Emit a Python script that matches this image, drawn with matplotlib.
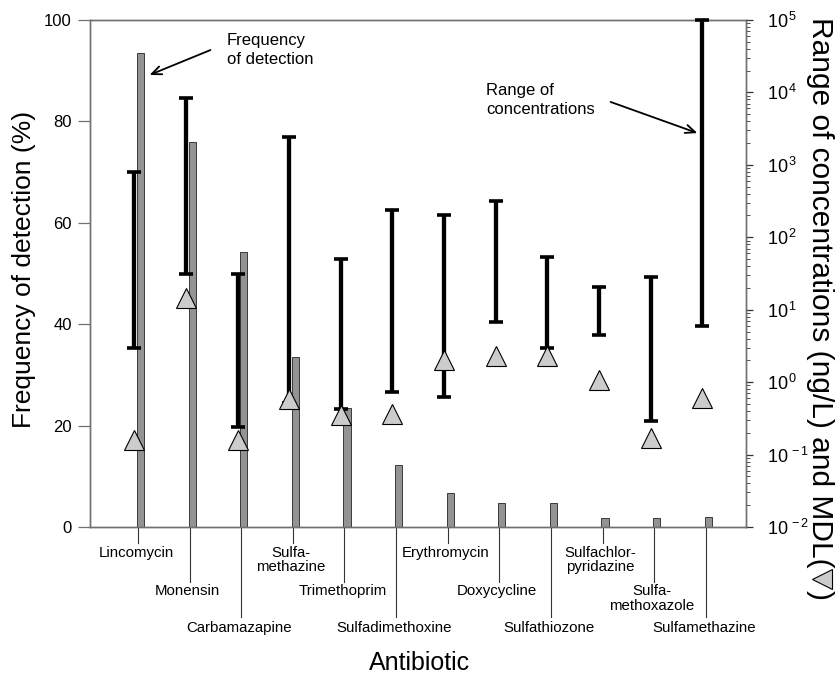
import matplotlib
matplotlib.use("Agg")
import matplotlib.pyplot as plt
import matplotlib.transforms as mtransforms
from matplotlib.lines import Line2D
from matplotlib.ticker import FixedLocator, FuncFormatter, LogLocator, NullFormatter
import numpy as np

plt.rcParams["font.family"] = ["Liberation Sans", "DejaVu Sans"]
plt.rcParams["mathtext.fontset"] = "custom"
plt.rcParams["mathtext.rm"] = "Liberation Sans"
plt.rcParams["mathtext.it"] = "Liberation Sans:italic"

# ---- data -------------------------------------------------------------
antibiotics = ["Lincomycin", "Monensin", "Carbamazapine", "Sulfa-\nmethazine",
               "Trimethoprim", "Sulfadimethoxine", "Erythromycin", "Doxycycline",
               "Sulfathiozone", "Sulfachlor-\npyridazine", "Sulfa-\nmethoxazole",
               "Sulfamethazine"]
label_row = [0, 1, 2, 0, 1, 2, 0, 1, 2, 0, 1, 2]

detection_freq = [93.5, 76.0, 54.2, 33.6, 23.5, 12.2, 6.8, 4.8, 4.8, 1.7, 1.7, 1.9]   # %
conc_min = [2.95, 31, 0.24, 0.52, 0.43, 0.72, 0.62, 6.7, 2.95, 4.5, 0.29, 5.9]        # ng/L
conc_max = [800, 8500, 31, 2400, 50, 236, 200, 316, 54, 20.5, 28, 1e5]                # ng/L
mdl = [0.16, 14.5, 0.16, 0.58, 0.35, 0.36, 2.0, 2.3, 2.3, 1.07, 0.17, 0.6]             # ng/L

freq_ticks = [0, 20, 40, 60, 80, 100]
conc_exponents = [-2, -1, 0, 1, 2, 3, 4, 5]

# ---- figure -----------------------------------------------------------
W, H = 840, 675
fig = plt.figure(figsize=(W / 100, H / 100), dpi=100)
ax = fig.add_axes([90 / W, 1 - 527 / H, (746 - 90) / W, (527 - 20) / H])
ax2 = ax.twinx()

spine_color = "#707070"
x = np.arange(len(antibiotics))

# frequency of detection bars (left axis)
ax.bar(x + 0.05, detection_freq, width=0.14, color="#939393",
       edgecolor="#3a3a3a", linewidth=0.7, zorder=2)
ax.set_xlim(-0.93, 11.78)
ax.set_ylim(0, 100)
ax.set_xticks([])
ax.yaxis.set_major_locator(FixedLocator(freq_ticks))
ax.tick_params(axis="y", direction="out", length=9, width=0.9,
               color=spine_color, labelsize=12, pad=4)

# concentration ranges and MDL (right, log axis)
ax2.set_yscale("log")
ax2.set_ylim(1e-2, 1e5)
xr = x - 0.07
ax2.vlines(xr, conc_min, conc_max, color="black", lw=3.1, zorder=3)
for ends in (conc_min, conc_max):
    ax2.plot(xr, ends, ls="none", marker="_", ms=10, mew=2.6,
             color="black", clip_on=False, zorder=3)
ax2.plot(xr, mdl, ls="none", marker="^", ms=14, mfc="#cccccc",
         mec="black", mew=0.8, zorder=4, clip_on=False)

ax2.yaxis.set_major_locator(FixedLocator([10.0 ** e for e in conc_exponents]))
ax2.yaxis.set_major_formatter(
    FuncFormatter(lambda v, p: r"$10^{\,%d}$" % int(round(np.log10(v)))))
ax2.yaxis.set_minor_locator(LogLocator(base=10, subs=np.arange(2, 10), numticks=20))
ax2.yaxis.set_minor_formatter(NullFormatter())
ax2.tick_params(axis="y", which="major", direction="out", length=5, width=0.9,
                color="#333333", labelsize=13, pad=10)
ax2.tick_params(axis="y", which="minor", direction="out", length=3, width=0.6,
                color="#333333")

for a in (ax, ax2):
    for s in a.spines.values():
        s.set_color(spine_color)
        s.set_linewidth(1.0)

# staggered category labels with leader lines
trans = mtransforms.blended_transform_factory(ax.transData, ax.transAxes)
line_ends = [-0.032, -0.108, -0.178]
label_tops = [-0.037, -0.113, -0.186]
for i, (name, row) in enumerate(zip(antibiotics, label_row)):
    ax.plot([i, i], [0, line_ends[row]], transform=trans, color="#333333",
            lw=0.8, clip_on=False)
    ax.text(i - 0.04, label_tops[row], name, transform=trans, ha="center", va="top",
            fontsize=10.8, linespacing=1.05)

# axis titles
fig.text(420 / W, 1 - 663 / H, "Antibiotic", ha="center", va="center", fontsize=18)
fig.text(24 / W, 1 - 269 / H, "Frequency of detection (%)", rotation=90,
         ha="center", va="center", fontsize=19)

# callouts
arrow_style = dict(arrowstyle="->,head_length=0.7,head_width=0.3", lw=1.3, color="black")
ax.annotate("", xy=(147 / W, 1 - 76 / H), xytext=(213 / W, 1 - 49 / H),
            xycoords="figure fraction", textcoords="figure fraction",
            arrowprops=arrow_style)
fig.text(227 / W, 1 - 33 / H, "Frequency\nof detection", ha="left", va="top",
         fontsize=12, linespacing=1.3)
ax.annotate("", xy=(700 / W, 1 - 134 / H), xytext=(608 / W, 1 - 101 / H),
            xycoords="figure fraction", textcoords="figure fraction",
            arrowprops=arrow_style)
fig.text(486 / W, 1 - 83 / H, "Range of\nconcentrations", ha="left", va="top",
         fontsize=12, linespacing=1.3)

# right-hand axis title with the MDL marker drawn inline
renderer = fig.canvas.get_renderer()
t1 = fig.text(820 / W, 1 - 17 / H, "Range of concentrations (ng/L) and MDL(",
              rotation=-90, ha="center", va="top", fontsize=21.5)
bb = t1.get_window_extent(renderer)
cx = 0.5 * (bb.x0 + bb.x1) + 2
tri_y = bb.y0 - 11
fig.add_artist(Line2D([cx], [tri_y], marker="<", ms=14, mfc="#cccccc",
                      mec="black", mew=0.8, ls="none", transform=None))
fig.text(0.5 * (bb.x0 + bb.x1) / W, (tri_y - 11) / H, ")", rotation=-90,
         ha="center", va="top", fontsize=21.5)

fig.savefig("out.png", dpi=100)
